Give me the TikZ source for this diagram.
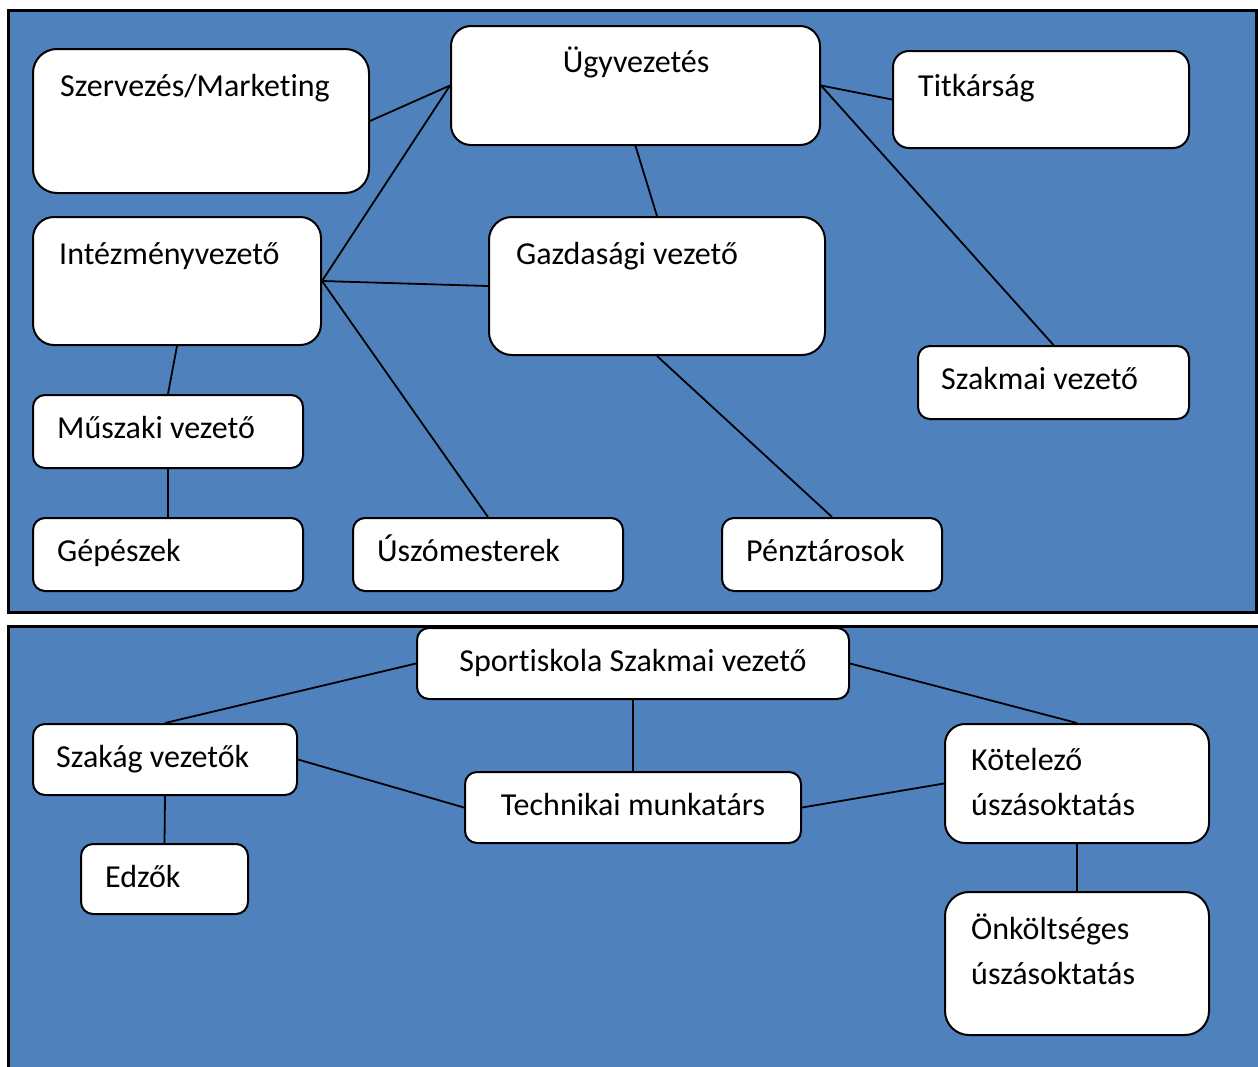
\documentclass[tikz,border=0pt]{standalone}
\usepackage{fontspec}
\setmainfont{Carlito}[Ligatures=NoCommon]
\definecolor{panelblue}{HTML}{4F81BD}
\begin{document}
\begin{tikzpicture}[x=1pt,y=-1pt,
  box/.style={draw=black, fill=white, line width=2pt, inner sep=0pt, rectangle},
  conn/.style={draw=black, line width=1.8pt},
  txt/.style={inner sep=0pt, font=\fontsize{32}{38}\selectfont, anchor=base west},
  ctxt/.style={txt, anchor=base},
  panel/.style={fill=panelblue}]
\useasboundingbox (0,0) rectangle (1258,1066);
\begin{scope}
\clip (0,0) rectangle (1258,1066);
% panels
\fill[panel] (8,10) rectangle (1256,612);
\draw[line width=3pt] (8,10) rectangle (1256,612);
\fill[panel] (8,626) rectangle (1262,1070);
\draw[line width=3pt] (8,1070) -- (8,626) -- (1262,626);
\end{scope}
% top nodes
\node[box, minimum width=336pt, minimum height=144pt, rounded corners=24pt] (szm) at (201,121) {};
\node[box, minimum width=369pt, minimum height=119pt, rounded corners=20pt] (ugy) at (635.5,85.5) {};
\node[box, minimum width=296pt, minimum height=97pt, rounded corners=16pt] (tit) at (1041,99.5) {};
\node[box, minimum width=288pt, minimum height=128pt, rounded corners=21pt] (int) at (177,281) {};
\node[box, minimum width=336pt, minimum height=138pt, rounded corners=23pt] (gaz) at (657,286) {};
\node[box, minimum width=271pt, minimum height=73pt, rounded corners=12pt] (szv) at (1053.5,382.5) {};
\node[box, minimum width=270pt, minimum height=73pt, rounded corners=12pt] (mus) at (168,431.5) {};
\node[box, minimum width=270pt, minimum height=73pt, rounded corners=12pt] (gep) at (168,554.5) {};
\node[box, minimum width=270pt, minimum height=73pt, rounded corners=12pt] (usz) at (488,554.5) {};
\node[box, minimum width=220pt, minimum height=73pt, rounded corners=12pt] (pen) at (832,554.5) {};
% bottom nodes
\node[box, minimum width=432pt, minimum height=71pt, rounded corners=12pt] (spo) at (633,663.5) {};
\node[box, minimum width=264pt, minimum height=71pt, rounded corners=12pt] (szak) at (165,759.5) {};
\node[box, minimum width=336pt, minimum height=71pt, rounded corners=12pt] (tech) at (633,807.5) {};
\node[box, minimum width=264pt, minimum height=119pt, rounded corners=20pt] (kot) at (1077,783.5) {};
\node[box, minimum width=167pt, minimum height=70pt, rounded corners=12pt] (edz) at (164.5,879) {};
\node[box, minimum width=264pt, minimum height=143pt, rounded corners=24pt] (onk) at (1077,963.5) {};
% texts
\node[txt] (tszm) at (60,96) {Szervezés/Marketing};
\node[ctxt] (tugy) at (636,72) {Ügyvezetés};
\node[txt] (ttit) at (918,96) {Titkárság};
\node[txt] (tint) at (59,264) {Intézményvezető};
\node[txt] (tgaz) at (516,264) {Gazdasági vezető};
\node[txt] (tszv) at (941,389) {Szakmai vezető};
\node[txt] (tmus) at (57,438) {Műszaki vezető};
\node[txt] (tgep) at (57,561) {Gépészek};
\node[txt] (tusz) at (377,561) {Úszómesterek};
\node[txt] (tpen) at (746,561) {Pénztárosok};
\node[ctxt] (tspo) at (633,671) {Sportiskola Szakmai vezető};
\node[txt] (tszak) at (56,767) {Szakág vezetők};
\node[ctxt] (ttech) at (633,815) {Technikai munkatárs};
\node[txt] (tkot1) at (971,770) {Kötelező};
\node[txt] (tkot2) at (971,815) {úszásoktatás};
\node[txt] (tedz) at (105,887) {Edzők};
\node[txt] (tonk1) at (971,939) {Önköltséges};
\node[txt] (tonk2) at (971,984) {úszásoktatás};
% connectors
\draw[conn] (szm.east) -- (ugy.west);
\draw[conn] (int.east) -- (ugy.west);
\draw[conn] (int.east) -- (gaz.west);
\draw[conn] (int.east) -- (usz.north);
\draw[conn] (int.south) -- (mus.north);
\draw[conn] (mus.south) -- (gep.north);
\draw[conn] (ugy.south) -- (gaz.north);
\draw[conn] (ugy.east) -- (tit.west);
\draw[conn] (ugy.east) -- (szv.north);
\draw[conn] (gaz.south) -- (pen.north);
\draw[conn] (spo.west) -- (szak.north);
\draw[conn] (spo.east) -- (kot.north);
\draw[conn] (spo.south) -- (tech.north);
\draw[conn] (szak.east) -- (tech.west);
\draw[conn] (tech.east) -- (kot.west);
\draw[conn] (szak.south) -- (edz.north);
\draw[conn] (kot.south) -- (onk.north);
\end{tikzpicture}
\end{document}
